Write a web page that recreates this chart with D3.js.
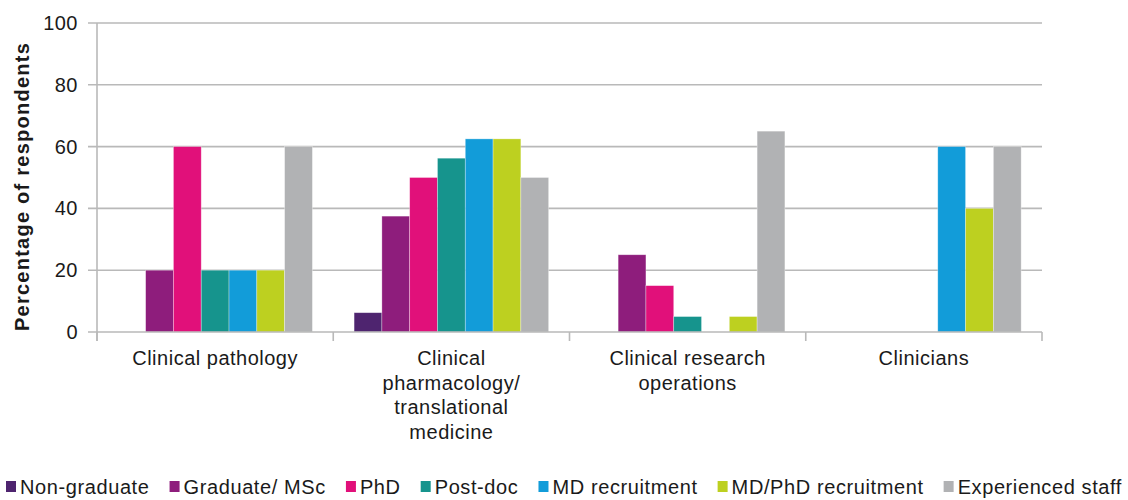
<!DOCTYPE html>
<html>
<head>
<meta charset="utf-8">
<script src="https://cdn.jsdelivr.net/npm/d3@7"></script>
<style>
  html, body { margin: 0; padding: 0; background: #fff; }
  svg text { font-family: "Liberation Sans", Arial, Helvetica, sans-serif; fill: #1a1a1a; }
</style>
</head>
<body>
<svg id="chart" width="1128" height="500"></svg>
<script>
// Job areas (x categories), each label split into display lines
const categories = [
  "Clinical pathology",
  "Clinical pharmacology/ translational medicine",
  "Clinical research operations",
  "Clinicians"
];
const categoryLines = [
  ["Clinical pathology"],
  ["Clinical", "pharmacology/", "translational", "medicine"],
  ["Clinical research", "operations"],
  ["Clinicians"]
];

// Respondent groups (series)
const groups = [
  "Non-graduate", "Graduate/ MSc", "PhD", "Post-doc",
  "MD recruitment", "MD/PhD recruitment", "Experienced staff"
];
const groupColors = ["#4e246f", "#8e1d7c", "#e1107a", "#16948d", "#129cd9", "#bdd020", "#b1b2b4"];

// Percentage of respondents, one array per group, in category order
const nonGraduate     = [0, 6.25, 0, 0];
const graduateMSc     = [20, 37.5, 25, 0];
const phd             = [60, 50, 15, 0];
const postDoc         = [20, 56.25, 5, 0];
const mdRecruitment   = [20, 62.5, 0, 60];
const mdPhdRecruitment= [20, 62.5, 5, 40];
const experienced     = [60, 50, 65, 60];
const seriesValues = [nonGraduate, graduateMSc, phd, postDoc, mdRecruitment, mdPhdRecruitment, experienced];

const yTicks = [0, 20, 40, 60, 80, 100];
const yTitle = "Percentage of respondents";

const svg = d3.select("#chart");
const plot = { left: 97, right: 1042, top: 23, bottom: 332 };
const gridColor = "#b9b9b9";

const x0 = d3.scaleBand().domain(categories).range([plot.left, plot.right]).paddingInner(0).paddingOuter(0);
const x1 = d3.scaleBand().domain(groups).range([0, x0.bandwidth()]).paddingInner(0).paddingOuter(0.75);
const y = d3.scaleLinear().domain([0, 100]).range([plot.bottom, plot.top]);
const color = d3.scaleOrdinal().domain(groups).range(groupColors);

// Horizontal gridlines (extend a little left of the axis, like tick marks)
svg.append("g")
  .selectAll("line")
  .data(yTicks.filter(d => d !== 0))
  .join("line")
  .attr("x1", plot.left - 9).attr("x2", plot.right)
  .attr("y1", d => y(d)).attr("y2", d => y(d))
  .attr("stroke", gridColor).attr("stroke-width", 1.6);

// Y axis labels
const yAxis = d3.axisLeft(y).tickValues(yTicks).tickSize(0).tickPadding(19);
const gy = svg.append("g").attr("transform", `translate(${plot.left},0)`).call(yAxis);
gy.select(".domain").remove();
gy.selectAll("text")
  .style("font-size", "20px").style("letter-spacing", "0.5px")
  .attr("fill", "#1a1a1a");

// Bars
const rows = categories.map((c, ci) => ({
  category: c,
  values: groups.map((g, gi) => ({ group: g, value: seriesValues[gi][ci] }))
}));

svg.append("g")
  .selectAll("g")
  .data(rows)
  .join("g")
  .attr("transform", d => `translate(${x0(d.category)},0)`)
  .selectAll("rect")
  .data(d => d.values.filter(v => v.value > 0))
  .join("rect")
  .attr("x", d => x1(d.group))
  .attr("width", x1.bandwidth())
  .attr("y", d => y(d.value))
  .attr("height", d => y(0) - y(d.value))
  .attr("fill", d => color(d.group))
  .attr("stroke", "#ffffff")
  .attr("stroke-opacity", 0.45)
  .attr("stroke-width", 0.7);

// Y axis line
svg.append("line")
  .attr("x1", plot.left).attr("x2", plot.left)
  .attr("y1", plot.top).attr("y2", plot.bottom + 9)
  .attr("stroke", gridColor).attr("stroke-width", 1.6);

// Baseline with category boundary ticks
svg.append("line")
  .attr("x1", plot.left - 9).attr("x2", plot.right)
  .attr("y1", y(0)).attr("y2", y(0))
  .attr("stroke", gridColor).attr("stroke-width", 1.6);

const boundaries = categories.map(c => x0(c)).concat([x0(categories[categories.length - 1]) + x0.bandwidth()]);
svg.append("g")
  .selectAll("line")
  .data(boundaries)
  .join("line")
  .attr("x1", d => d).attr("x2", d => d)
  .attr("y1", y(0)).attr("y2", y(0) + 9)
  .attr("stroke", gridColor).attr("stroke-width", 1.6);

// Category labels
const lineHeight = 24.5;
svg.append("g")
  .selectAll("text")
  .data(categories)
  .join("text")
  .attr("x", d => x0(d) + x0.bandwidth() / 2)
  .attr("y", 365)
  .attr("text-anchor", "middle")
  .style("font-size", "20px").style("letter-spacing", "0.5px")
  .selectAll("tspan")
  .data((d, i) => categoryLines[i])
  .join("tspan")
  .attr("x", function () { return this.parentNode.getAttribute("x"); })
  .attr("dy", (d, i) => i === 0 ? 0 : lineHeight)
  .text(d => d);

// Y axis title
svg.append("text")
  .attr("transform", `translate(29,${(plot.top + plot.bottom) / 2 + 9}) rotate(-90)`)
  .attr("text-anchor", "middle")
  .style("font-size", "20px").style("font-weight", "bold").style("letter-spacing", "1.25px")
  .text(yTitle);

// Legend: one row across the bottom, spaced evenly between the page edges
const legend = svg.append("g").attr("transform", "translate(0,494)");
const legendStart = 6, legendEnd = 1122, swatchGap = 14;
const items = groups.map(g => {
  const item = legend.append("g");
  item.append("rect")
    .attr("x", 0).attr("y", -13)
    .attr("width", 10).attr("height", 11)
    .attr("fill", color(g));
  const t = item.append("text")
    .attr("x", swatchGap).attr("y", 0)
    .style("font-size", "20px").style("letter-spacing", "0.6px")
    .text(g);
  return { item, w: swatchGap + t.node().getComputedTextLength() };
});
const totalW = d3.sum(items, d => d.w);
const itemGap = (legendEnd - legendStart - totalW) / (items.length - 1);
let lx = legendStart;
items.forEach(d => {
  d.item.attr("transform", `translate(${lx},0)`);
  lx += d.w + itemGap;
});
</script>
</body>
</html>
